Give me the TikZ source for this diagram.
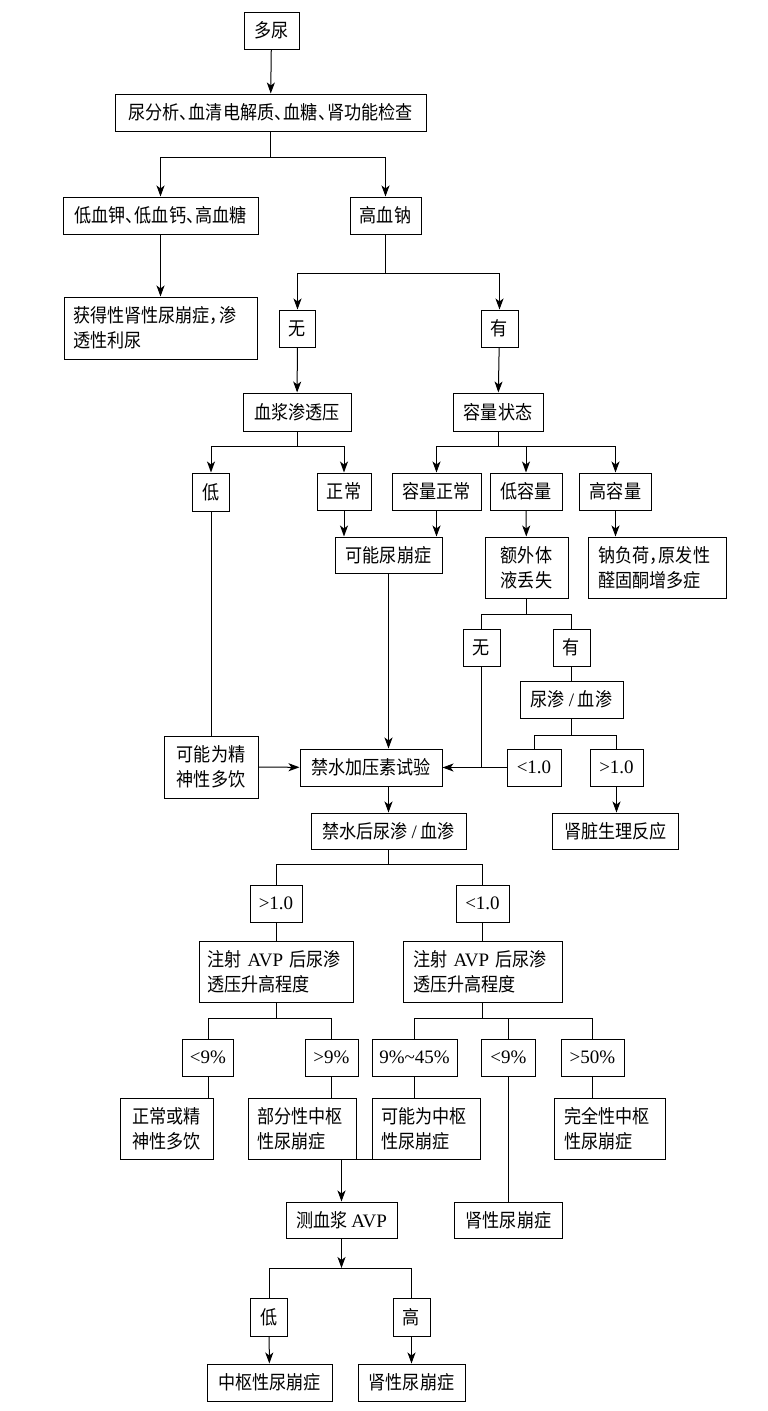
\documentclass[tikz,border=0pt]{standalone}
\usepackage{fontspec}
\setmainfont{Liberation Serif}
\newfontfamily\cjk[FakeStretch=0.9]{Noto Sans CJK SC}
\usetikzlibrary{arrows.meta}
\newcommand\lat[1]{{\rmfamily\fontsize{19pt}{25pt}\selectfont #1}}
\newcommand\dun{\makebox[0.5em][l]{、}}
\newcommand\dou{\makebox[0.5em][l]{，}}
\tikzset{
  bx/.style={draw, line width=1pt, inner sep=0pt, minimum height=37pt,
    font=\cjk\fontsize{19pt}{25pt}\selectfont, align=left},
  arr/.style={-{Stealth[length=11pt,width=8pt,inset=3pt]}, line width=1pt},
  ln/.style={line width=1pt},
}
\begin{document}
\begin{tikzpicture}[x=1pt,y=-1pt]
\useasboundingbox[fill=white] (0,0) rectangle (768,1411);
% nodes
\node[bx, minimum width=55pt] (duoniao) at (271.5,30.5) {多尿};
\node[bx, minimum width=311pt] (jiancha) at (270.5,112.5) {尿分析\dun 血清电解质\dun 血糖\dun 肾功能检查};
\node[bx, minimum width=195pt] (dixuejia) at (160.5,215.5) {低血钾\dun 低血钙\dun 高血糖};
\node[bx, minimum width=71pt] (gaoxuena) at (385.5,215.5) {高血钠};
\node[bx, minimum height=62pt, inner xsep=9pt, text width=175pt] (huode) at (160.5,328) {获得性肾性尿崩症\dou 渗\\透性利尿};
\node[bx, minimum width=36pt] (wu1) at (297.5,328.5) {无};
\node[bx, minimum width=37pt] (you1) at (499.5,328.5) {有};
\node[bx, minimum width=108pt, minimum height=38pt] (xuejiang) at (297,412) {血浆渗透压};
\node[bx, minimum width=90pt, minimum height=38pt] (rongliang) at (498,412) {容量状态};
\node[bx, minimum width=37pt, minimum height=38pt] (di1) at (211,492) {低};
\node[bx, minimum width=54pt] (zhengchang) at (344,491.5) {正常};
\node[bx, minimum width=89pt] (rlzc) at (436.5,491.5) {容量正常};
\node[bx, minimum width=72pt] (dirl) at (526,491.5) {低容量};
\node[bx, minimum width=72pt] (gaorl) at (615.5,491.5) {高容量};
\node[bx, minimum width=107pt, minimum height=36pt] (keneng) at (388.5,555) {可能尿崩症};
\node[bx, minimum width=83pt, minimum height=61pt] (ewai) at (526.5,567.5) {额外体\\液丢失};
\node[bx, minimum height=61pt, inner xsep=10pt, text width=118pt] (nafuhe) at (657,567.5) {钠负荷\dou 原发性\\醛固酮增多症};
\node[bx, minimum width=37pt] (wu2) at (481.5,647.5) {无};
\node[bx, minimum width=37pt] (you2) at (571.5,647.5) {有};
\node[bx, minimum width=103pt] (niaoshen) at (571.5,699.5) {尿渗 \lat{/} 血渗};
\node[bx, minimum width=54pt] (lt1) at (534,767.5) {\lat{<1.0}};
\node[bx, minimum width=53pt] (gt1) at (616.5,767.5) {\lat{>1.0}};
\node[bx, minimum width=126pt, minimum height=36pt] (shenzang) at (615.5,831) {肾脏生理反应};
\node[bx, minimum width=94pt, minimum height=62pt] (jingshen) at (211,767) {可能为精\\神性多饮};
\node[bx, minimum width=142pt] (jinshui) at (371,767.5) {禁水加压素试验};
\node[bx, minimum width=155pt, minimum height=36pt] (jinshuihou) at (388.5,831) {禁水后尿渗 \lat{/} 血渗};
\node[bx, minimum width=52pt] (gt2) at (276,903.5) {\lat{>1.0}};
\node[bx, minimum width=53pt] (lt2) at (482.5,903.5) {\lat{<1.0}};
\node[bx, minimum height=61pt, inner xsep=8pt, text width=138pt] (zhusheL) at (276,971.5) {注射 \lat{AVP} 后尿渗\\透压升高程度};
\node[bx, minimum height=61pt, inner xsep=10pt, text width=139pt] (zhusheR) at (482.5,971.5) {注射 \lat{AVP} 后尿渗\\透压升高程度};
\node[bx, minimum width=51pt] (lt9a) at (208,1057.5) {\lat{<9\%}};
\node[bx, minimum width=53pt] (gt9) at (331.5,1057.5) {\lat{>9\%}};
\node[bx, minimum width=85pt] (r945) at (414.5,1057.5) {\lat{9\%\textasciitilde 45\%}};
\node[bx, minimum width=54pt] (lt9b) at (508.5,1057.5) {\lat{<9\%}};
\node[bx, minimum width=63pt] (gt50) at (592.5,1057.5) {\lat{>50\%}};
\node[bx, minimum width=93pt, minimum height=61pt] (zcjs) at (166.5,1128.5) {正常或精\\神性多饮};
\node[bx, minimum height=61pt, inner xsep=9pt, text width=90pt] (bufen) at (302,1128.5) {部分性中枢\\性尿崩症};
\node[bx, minimum height=61pt, inner xsep=9pt, text width=90pt] (knzs) at (426,1128.5) {可能为中枢\\性尿崩症};
\node[bx, minimum height=61pt, inner xsep=10pt, text width=91pt] (wqx) at (609.5,1128.5) {完全性中枢\\性尿崩症};
\node[bx, minimum width=111pt, minimum height=36pt] (cexj) at (341.5,1220) {测血浆 \lat{AVP}};
\node[bx, minimum width=108pt, minimum height=36pt] (shenxing1) at (508.5,1220) {肾性尿崩症};
\node[bx, minimum width=37pt, minimum height=38pt] (di2) at (269,1317) {低};
\node[bx, minimum width=37pt, minimum height=38pt] (gao2) at (411.5,1317) {高};
\node[bx, minimum width=125pt] (zhongshu) at (269.5,1382.5) {中枢性尿崩症};
\node[bx, minimum width=107pt] (shenxing2) at (411.5,1382.5) {肾性尿崩症};
% connectors
\draw[arr] (duoniao) -- (jiancha);
\draw[ln] (jiancha.south) -- ++(0,26) coordinate (b1);
\draw[arr] (b1) -| (dixuejia.north);
\draw[arr] (b1) -| (gaoxuena.north);
\draw[arr] (dixuejia) -- (huode);
\draw[ln] (gaoxuena.south) -- ++(0,39) coordinate (b2);
\draw[arr] (b2) -| (wu1.north);
\draw[arr] (b2) -| (you1.north);
\draw[arr] (wu1) -- (xuejiang);
\draw[arr] (you1) -- (rongliang);
\draw[ln] (xuejiang.south) -- ++(0,15) coordinate (b3);
\draw[arr] (b3) -| (di1.north);
\draw[arr] (b3) -| (zhengchang.north);
\draw[ln] (rongliang.south) -- ++(0,15) coordinate (b4);
\draw[arr] (b4) -| (rlzc.north);
\draw[arr] (b4) -| (dirl.north);
\draw[arr] (b4) -| (gaorl.north);
\draw[ln] (di1) -- (jingshen);
\draw[arr] (zhengchang.south) -- (zhengchang.south |- keneng.north);
\draw[arr] (rlzc.south) -- (rlzc.south |- keneng.north);
\draw[arr] (dirl) -- (ewai);
\draw[arr] (gaorl.south) -- (gaorl.south |- nafuhe.north);
\draw[arr] (keneng.south) -- (keneng.south |- jinshui.north);
\draw[ln] (ewai.south) -- ++(0,16) coordinate (b5);
\draw[ln] (b5) -| (wu2.north);
\draw[ln] (b5) -| (you2.north);
\draw[ln] (you2) -- (niaoshen);
\draw[ln] (niaoshen.south) -- ++(0,17) coordinate (b6);
\draw[ln] (b6) -| (lt1.north);
\draw[ln] (b6) -| (gt1.north);
\draw[ln] (wu2.south) -- (wu2.south |- jinshui.east);
\draw[arr] (lt1) -- (jinshui);
\draw[arr] (jingshen) -- (jinshui);
\draw[arr] (gt1.south) -- (gt1.south |- shenzang.north);
\draw[arr] (jinshuihou.north |- jinshui.south) -- (jinshuihou.north);
\draw[ln] (jinshuihou.south) -- ++(0,15) coordinate (b7);
\draw[ln] (b7) -| (gt2.north);
\draw[ln] (b7) -| (lt2.north);
\draw[ln] (gt2) -- (zhusheL);
\draw[ln] (lt2) -- (zhusheR);
\draw[ln] (zhusheL.south) -- ++(0,16) coordinate (b8);
\draw[ln] (b8) -| (lt9a.north);
\draw[ln] (b8) -| (gt9.north);
\draw[ln] (zhusheR.south) -- ++(0,16) coordinate (b9);
\draw[ln] (b9) -| (r945.north);
\draw[ln] (b9) -| (lt9b.north);
\draw[ln] (b9) -| (gt50.north);
\draw[ln] (lt9a.south) -- (lt9a.south |- zcjs.north);
\draw[ln] (gt9.south) -- (gt9.south |- bufen.north);
\draw[ln] (r945.south) -- (r945.south |- knzs.north);
\draw[ln] (lt9b) -- (shenxing1);
\draw[ln] (gt50.south) -- (gt50.south |- wqx.north);
\draw[ln] (bufen.south east) -- (knzs.south west);
\draw[arr] (cexj.north |- bufen.south) -- (cexj.north);
\coordinate (b10) at (341.5,1268);
\draw[arr] (cexj.south) -- (b10);
\draw[ln] (di2.north) -- (di2.north |- b10) -- (gao2.north |- b10) -- (gao2.north);
\draw[arr] (di2) -- (zhongshu);
\draw[arr] (gao2) -- (shenxing2);
\end{tikzpicture}
\end{document}
